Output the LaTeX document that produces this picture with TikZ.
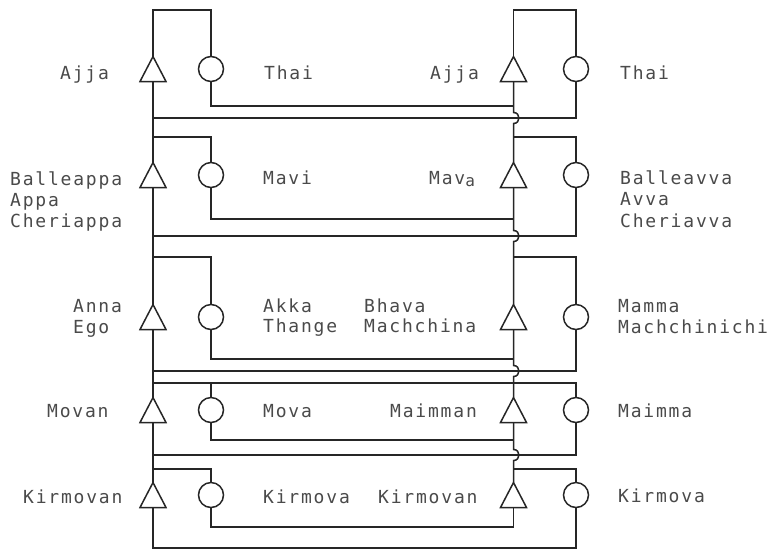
\documentclass[tikz,border=0pt]{standalone}
\usepackage{fontspec}
\newfontfamily\lblfont[LetterSpace=10]{DejaVu Sans Mono}
\definecolor{ink}{HTML}{262626}
\definecolor{txt}{HTML}{4A4A4A}
\begin{document}
\begin{tikzpicture}[x=1pt,y=-1pt,
  line/.style={draw=ink, line width=1.5pt},
  male/.style={rectangle, minimum width=26pt, minimum height=25pt, inner sep=0pt, outer sep=0pt},
  female/.style={circle, draw=ink, line width=1.5pt, minimum size=25pt, inner sep=0pt, outer sep=0pt},
  lbl/.style={font=\lblfont\fontsize{18}{21}\selectfont, text=txt, inner sep=0pt, anchor=base west}]
\useasboundingbox (0,0) rectangle (775,550);

% ---- persons ----
\foreach \i/\y in {1/69,2/175,3/317,4/410,5/495}{
  \node[male]   (LT\i) at (153,\y) {};
  \node[female] (LC\i) at (211,\y) {};
  \node[male]   (RT\i) at (513.5,\y) {};
  \node[female] (RC\i) at (576,\y) {};
}
\foreach \n in {LT1,LT2,LT3,LT4,LT5,RT1,RT2,RT3,RT4,RT5}
  \draw[line, line join=miter] (\n.north) -- (\n.south east) -- (\n.south west) -- cycle;

% ---- top brackets ----
\draw[line] (LT1.north) -- (LT1.north |- 0,10) -| (LC1.north);
\draw[line] (RT1.north) -- (RT1.north |- 0,10) -| (RC1.north);

% ---- left descent line ----
\draw[line] (LT1.south) -- (LT2.north);
\draw[line] (LT2.south) -- (LT3.north);
\draw[line] (LT3.south) -- (LT4.north);
\draw[line] (LT4.south) -- (LT5.north);
\draw[line] (LT5.south) -- (LT5 |- 0,548) -| (RC5.south);

% ---- left branches to sisters ----
\draw[line] (LT1 |- 0,137) -| (LC2.north);
\draw[line] (LT1 |- 0,257) -| (LC3.north);
\draw[line] (LT1 |- 0,469) -| (LC5.north);
\draw[line] (LT1 |- 0,383) -| (RC4.north);
\draw[line] (LC4.north) -- (LC4 |- 0,383);

% ---- right brackets ----
\draw[line] (RT1 |- 0,137) -| (RC2.north);
\draw[line] (RT1 |- 0,257) -| (RC3.north);
\draw[line] (RT1 |- 0,469) -| (RC5.north);

% ---- long lines from left descent line to right women ----
\draw[line] (LT1 |- 0,118) -| (RC1.south);
\draw[line] (LT1 |- 0,236) -| (RC2.south);
\draw[line] (LT1 |- 0,371) -| (RC3.south);
\draw[line] (LT1 |- 0,455) -| (RC4.south);

% ---- left women to right men ----
\draw[line] (LC1.south) |- (RT1 |- 0,106);
\draw[line] (LC2.south) |- (RT1 |- 0,219);
\draw[line] (LC3.south) |- (RT1 |- 0,359);
\draw[line] (LC4.south) |- (RT1 |- 0,440);
\draw[line] (LC5.south) |- (RT1 |- 0,527);

% ---- right descent line with hops ----
\draw[line] (RT1.south) -- (513.5,112.5) .. controls (520.8,112.5) and (520.8,123.5) .. (513.5,123.5) -- (RT2.north);
\draw[line] (RT2.south) -- (513.5,230.5) .. controls (520.8,230.5) and (520.8,241.5) .. (513.5,241.5) -- (RT3.north);
\draw[line] (RT3.south) -- (513.5,365.5) .. controls (520.8,365.5) and (520.8,376.5) .. (513.5,376.5) -- (RT4.north);
\draw[line] (RT4.south) -- (513.5,449.5) .. controls (520.8,449.5) and (520.8,460.5) .. (513.5,460.5) -- (RT5.north);
\draw[line] (RT5.south) -- (RT5 |- 0,527);

% ---- labels: left ----
\node[lbl] (a1) at (60,79) {Ajja};
\node[lbl] (a2) at (10,185) {Balleappa};
\node[lbl] (a3) at (10,206) {Appa};
\node[lbl] (a4) at (10,227) {Cheriappa};
\node[lbl] (a5) at (73,312) {Anna};
\node[lbl] (a6) at (73,333) {Ego};
\node[lbl] (a7) at (47,417) {Movan};
\node[lbl] (a8) at (23,503) {Kirmovan};
% ---- labels: middle left ----
\node[lbl] (b1) at (264,79) {Thai};
\node[lbl] (b2) at (263,184) {Mavi};
\node[lbl] (b3) at (263,312) {Akka};
\node[lbl] (b4) at (263,332) {Thange};
\node[lbl] (b5) at (263,417) {Mova};
\node[lbl] (b6) at (263,503) {Kirmova};
% ---- labels: middle right ----
\node[lbl] (c1) at (430,79) {Ajja};
\node[lbl] (c2) at (429,184) {Mav\raisebox{-2.5pt}{\fontsize{16}{16}\selectfont a}};
\node[lbl] (c3) at (364,312) {Bhava};
\node[lbl] (c4) at (364,332) {Machchina};
\node[lbl] (c5) at (390,417) {Maimman};
\node[lbl] (c6) at (378,503) {Kirmovan};
% ---- labels: right ----
\node[lbl] (d1) at (620,79) {Thai};
\node[lbl] (d2) at (620,184) {Balleavva};
\node[lbl] (d3) at (620,205) {Avva};
\node[lbl] (d4) at (620,227) {Cheriavva};
\node[lbl] (d5) at (618,312) {Mamma};
\node[lbl] (d6) at (618,333) {Machchinichi};
\node[lbl] (d7) at (618,417) {Maimma};
\node[lbl] (d8) at (618,502) {Kirmova};
\end{tikzpicture}
\end{document}
